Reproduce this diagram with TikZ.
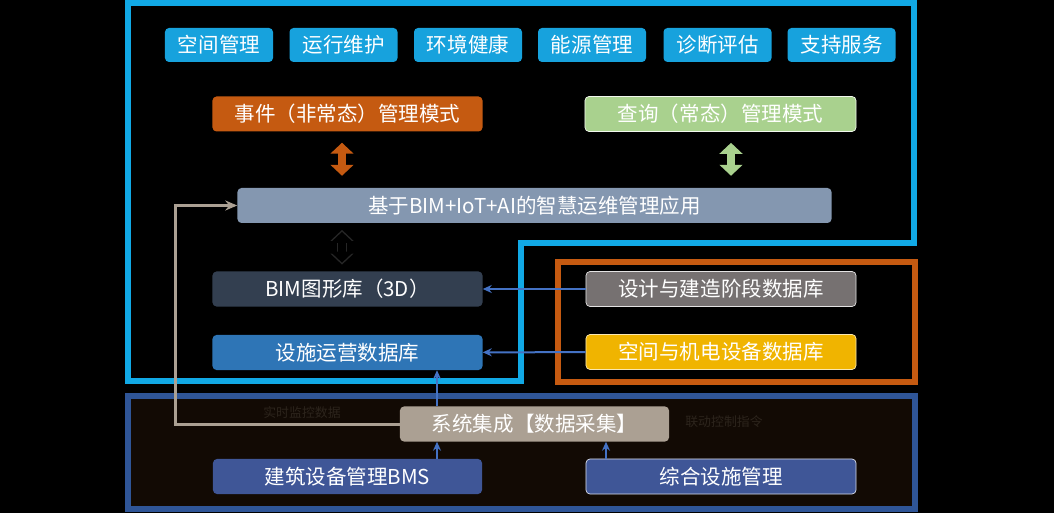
\documentclass[tikz,border=0pt]{standalone}
\usepackage{fontspec}
\setmainfont{Noto Sans CJK SC}
\usepackage{tikz}
\usetikzlibrary{arrows.meta}
\definecolor{frcyan}{HTML}{11A9E6}
\definecolor{btncyan}{HTML}{17A2DD}
\definecolor{frorange}{HTML}{C55A11}
\definecolor{frblue}{HTML}{2F5597}
\definecolor{botfill}{HTML}{120A04}
\definecolor{evorange}{HTML}{C55A11}
\definecolor{qrygreen}{HTML}{A9D18E}
\definecolor{appgray}{HTML}{8497B0}
\definecolor{bimslate}{HTML}{333F50}
\definecolor{opsblue}{HTML}{2E75B6}
\definecolor{dsngray}{HTML}{767171}
\definecolor{spcgold}{HTML}{F0B400}
\definecolor{systaupe}{HTML}{ABA093}
\definecolor{srcblue}{HTML}{3F5697}
\definecolor{arrblue}{HTML}{4472C4}
\definecolor{lbldark}{HTML}{2C241C}
\tikzset{
    every node/.style={inner sep=0pt, text=white,
        font=\fontsize{17.5}{20}\selectfont},
    box/.style={rectangle, rounded corners=0.12cm, minimum width=8.1cm,
        minimum height=1.05cm},
    btn/.style={box, fill=btncyan, minimum width=3.24cm, minimum height=1.02cm},
    dbl/.style={line width=0.24cm,
        {Triangle[width=0.68cm,length=0.33cm]}-{Triangle[width=0.68cm,length=0.33cm]},
        shorten <=0.33cm, shorten >=0.36cm},
    feed/.style={arrblue, line width=0.06cm, -{Stealth[length=0.27cm,width=0.24cm]}},
    loopline/.style={systaupe, line width=0.09cm, -{Stealth[length=0.36cm,width=0.3cm]}}
}

\begin{document}
\begin{tikzpicture}[x=0.03cm, y=-0.03cm]
  \fill[black] (0,0) rectangle (1054,513);
  \useasboundingbox (0,0) rectangle (1054,513);

  % frames
  \draw[frcyan, line width=0.18cm] (128,3) -- (914,3) -- (914,243) -- (521,243)
      -- (521,381) -- (128,381) -- cycle;
  \draw[frorange, line width=0.16cm] (558,262) rectangle (915,382);
  \draw[frblue, line width=0.17cm, fill=botfill] (128,396) rectangle (915,509);

  % top buttons
  \node (b1) [btn] at (219,45) {空间管理};
  \node (b2) [btn] at (343.5,45) {运行维护};
  \node (b3) [btn] at (468,45) {环境健康};
  \node (b4) [btn] at (592,45) {能源管理};
  \node (b5) [btn] at (717.5,45) {诊断评估};
  \node (b6) [btn] at (841.5,45) {支持服务};

  \node (ev) [box, fill=evorange] at (347.5,114) {事件（非常态）管理模式};
  \node (qry) [box, fill=qrygreen, draw=white!85!qrygreen, line width=0.6pt,
      minimum width=8.13cm] at (720.5,114) {查询（常态）管理模式};
  \node (app) [box, fill=appgray, minimum width=17.82cm] at (534.5,205.5)
      {基于BIM+IoT+AI的智慧运维管理应用};

  \node (bim) [box, fill=bimslate] at (347.5,289) {BIM图形库（3D）};
  \node (ops) [box, fill=opsblue] at (347.5,352.5) {设施运营数据库};
  \node (dsn) [box, fill=dsngray, draw=white!80!dsngray, line width=0.6pt]
      at (721,289) {设计与建造阶段数据库};
  \node (spc) [box, fill=spcgold, draw=white!70!spcgold, line width=0.6pt]
      at (721,352) {空间与机电设备数据库};

  \node (sys) [box, fill=systaupe, minimum width=8.07cm] at (534.5,424)
      {系统集成【数据采集】};
  \node (bms) [box, fill=srcblue, minimum width=8.07cm] at (347.5,476.5)
      {建筑设备管理BMS};
  \node (fac) [box, fill=srcblue, draw=white!80!srcblue, line width=0.6pt]
      at (721,476.5) {综合设施管理};

  \node (lblL) [text=lbldark, font=\fontsize{11}{13}\selectfont] at (302,413)
      {实时监控数据};
  \node (lblR) [text=lbldark, font=\fontsize{11}{13}\selectfont] at (724,422)
      {联动控制指令};

  \coordinate (xa) at (342,0);
  \coordinate (xq) at (731,0);
  \coordinate (xs) at (437,0);
  \coordinate (xf) at (606,0);
  \coordinate (lp) at (175,300);

  % mode arrows
  \draw[dbl, evorange] (ev.south -| xa) -- (app.north -| xa);
  \draw[dbl, qrygreen] (qry.south -| xq) -- (app.north -| xq);
  \draw[dbl, line width=0.3cm, black!85!white, shorten <=0.2cm, shorten >=0.2cm]
      (app.south -| xa) -- (bim.north -| xa);
  \draw[dbl, black, shorten <=0.26cm, shorten >=0.26cm]
      (app.south -| xa) -- (bim.north -| xa);

  % data feeds
  \draw[feed] (dsn) -- (bim);
  \draw[feed] (spc) -- (ops);
  \draw[feed] (sys.north -| xs) -- (ops.south -| xs);
  \draw[feed] (bms.north -| xs) -- (sys.south -| xs);
  \draw[feed] (fac.north -| xf) -- (sys.south -| xf);
  \draw[loopline] (sys.west) -| (lp) |- (app.west);
\end{tikzpicture}
\end{document}
